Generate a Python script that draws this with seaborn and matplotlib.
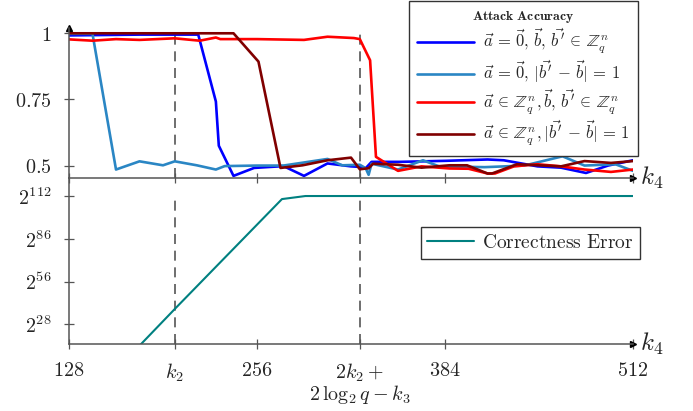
import pandas as pd
import matplotlib
matplotlib.use("Agg")
import matplotlib.pyplot as plt
import seaborn as sns

# Valeurs
k2 = 200
k2_plus = 326
x_ticks = [128, k2, 256, k2_plus, 384, 512]
x_tick_labels = ["$128$", "$k_2$", "$256$", "$2k_2+$\n$2\\,\\log_2 q - k_3$", "$384$", "$512$"]

blue_x = [128, 144, 160, 176, 192, 200, 216, 228, 230, 240, 254, 274, 288, 304, 320, 326,
          330, 334, 353, 385, 413, 424, 447, 463, 480, 495, 512]
blue_y = [0.992, 0.993, 0.994, 0.995, 0.995, 0.995, 0.995, 0.742, 0.575, 0.461, 0.491, 0.498,
          0.461, 0.508, 0.497, 0.495, 0.49, 0.514, 0.514, 0.518, 0.523, 0.52, 0.497, 0.492,
          0.472, 0.5, 0.52]

lblue_x = [128, 144, 160, 176, 192, 200, 215, 228, 234, 256, 274, 304, 314, 326, 330, 332,
           334, 352, 369, 380, 411, 438, 464, 479, 500, 512]
lblue_y = [0.998, 0.998, 0.485, 0.516, 0.501, 0.516, 0.501, 0.485, 0.498, 0.5, 0.5, 0.525,
           0.501, 0.503, 0.49, 0.465, 0.507, 0.485, 0.52, 0.497, 0.494, 0.5, 0.535, 0.5,
           0.505, 0.48]

red_x = [128, 144, 160, 176, 200, 217, 228, 231, 256, 288, 304, 322, 326, 333, 337, 352,
         368, 387, 400, 413, 418, 431, 447, 463, 479, 497, 512]
red_y = [0.977, 0.972, 0.978, 0.975, 0.981, 0.972, 0.984, 0.978, 0.978, 0.975, 0.987, 0.982,
         0.978, 0.898, 0.533, 0.48, 0.497, 0.489, 0.488, 0.47, 0.47, 0.497, 0.505, 0.497,
         0.485, 0.476, 0.485]

dred_x = [128, 240, 257, 272, 287, 304, 320, 326, 332, 335, 352, 368, 387, 399, 413, 416,
          433, 463, 479, 497, 512]
dred_y = [1.0, 1.0, 0.893, 0.491, 0.501, 0.52, 0.53, 0.486, 0.49, 0.507, 0.503, 0.492,
          0.501, 0.501, 0.47, 0.47, 0.505, 0.497, 0.517, 0.51, 0.517]

corr_x = [176, 201, 273, 289, 512]
corr_log2 = [14, 39, 110, 112, 112]

attack_labels = [
    r"$\vec{a}\,=\,\vec{0},\,\vec{b},\,\vec{b'}\,\in\,\mathbb{Z}_q^n$",
    r"$\vec{a}\,=\,\vec{0},\,|\vec{b'}\,-\,\vec{b}|\,=\,1$",
    r"$\vec{a}\,\in\,\mathbb{Z}_q^n,\vec{b},\,\vec{b'}\,\in\,\mathbb{Z}_q^n$",
    r"$\vec{a}\,\in\,\mathbb{Z}_q^n,|\vec{b'}\,-\,\vec{b}|\,=\,1$",
]
attack_colors = ["#0000ff", "#2a86c4", "#ff0000", "#800000"]

sns.set_theme(style="white")
plt.rcParams["mathtext.fontset"] = "cm"
plt.rcParams["font.family"] = ["DejaVu Serif"]

AXC = "#555555"

fig = plt.figure(figsize=(6.93, 4.11), dpi=100)
ax1 = fig.add_axes([69 / 693, 1 - 178 / 411, 564 / 693, 150 / 411])
ax2 = fig.add_axes([69 / 693, 1 - 344 / 411, 564 / 693, 166 / 411])

series = [(blue_x, blue_y), (lblue_x, lblue_y), (red_x, red_y), (dred_x, dred_y)]
for (xs, ys), lab, col in zip(series, attack_labels, attack_colors):
    df = pd.DataFrame({"x": xs, "y": ys})
    sns.lineplot(data=df, x="x", y="y", ax=ax1, color=col, lw=1.9, label=lab,
                 estimator=None, sort=False)

df_corr = pd.DataFrame({"x": corr_x, "y": corr_log2})
sns.lineplot(data=df_corr, x="x", y="y", ax=ax2, color="#008080", lw=1.5,
             label=r"$\mathrm{Correctness\ Error}$", estimator=None, sort=False)

for ax in (ax1, ax2):
    ax.set_xlim(128, 512)
    ax.set_xlabel("")
    ax.set_ylabel("")
    for s in ("top", "right"):
        ax.spines[s].set_visible(False)
    for s in ("left", "bottom"):
        ax.spines[s].set_color(AXC)
        ax.spines[s].set_linewidth(1.1)
    ax.set_xticks(x_ticks)
    ax.tick_params(bottom=True, left=True, direction="inout", length=7, width=0.9,
                   color=AXC, labelsize=14.5)
    ax.tick_params(axis="y", pad=9)
    ax.tick_params(axis="x", pad=9)
    ax.patch.set_alpha(0)
    # flèche au bout de l'axe x
    ax.plot(1, 0, marker=">", color="black", ms=5, transform=ax.transAxes, clip_on=False)
    ax.text(1.012, 0, "$k_4$", transform=ax.transAxes, ha="left", va="center", fontsize=18)

# Graphe du haut
ax1.set_ylim(0.453, 1.02)
ax1.set_yticks([0.5, 0.75, 1])
ax1.set_yticklabels(["$0.5$", "$0.75$", "$1$"])
ax1.set_xticklabels([])
ax1.plot(0, 1, marker="^", color="black", ms=5, transform=ax1.transAxes, clip_on=False)
for xv in (k2, k2_plus):
    ax1.axvline(xv, color=AXC, lw=1.2, ls=(0, (6, 4)), zorder=0)

leg1 = ax1.legend(loc="upper right", bbox_to_anchor=(638 / 693, 1 - 1 / 411),
                  bbox_transform=fig.transFigure, fontsize=12, borderaxespad=0,
                  title=r"$\mathbf{Attack\ Accuracy}$", title_fontsize=9.8,
                  frameon=True, fancybox=False, edgecolor="#333333", framealpha=1,
                  handlelength=3.4, handletextpad=0.55, borderpad=0.5,
                  labelspacing=0.12)
leg1.get_frame().set_linewidth(1.0)

# Graphe du bas
ax2.set_ylim(15.1, 123.8)
ax2.set_yticks([28, 56, 84, 112])
ax2.set_yticklabels(["$2^{28}$", "$2^{56}$", "$2^{86}$", "$2^{112}$"])
ax2.set_xticklabels(x_tick_labels, linespacing=0.95)
for xv in (k2, k2_plus):
    ax2.axvline(xv, ymax=0.867, color=AXC, lw=1.2, ls=(0, (6, 4)), zorder=0)

leg2 = ax2.legend(loc="upper right", bbox_to_anchor=(640 / 693, 1 - 227 / 411),
                  bbox_transform=fig.transFigure, fontsize=14, borderaxespad=0,
                  frameon=True, fancybox=False, edgecolor="#333333", framealpha=1,
                  handlelength=2.4, handletextpad=0.4, borderpad=0.35)
leg2.get_frame().set_linewidth(1.0)

fig.savefig("out.png", dpi=100)
